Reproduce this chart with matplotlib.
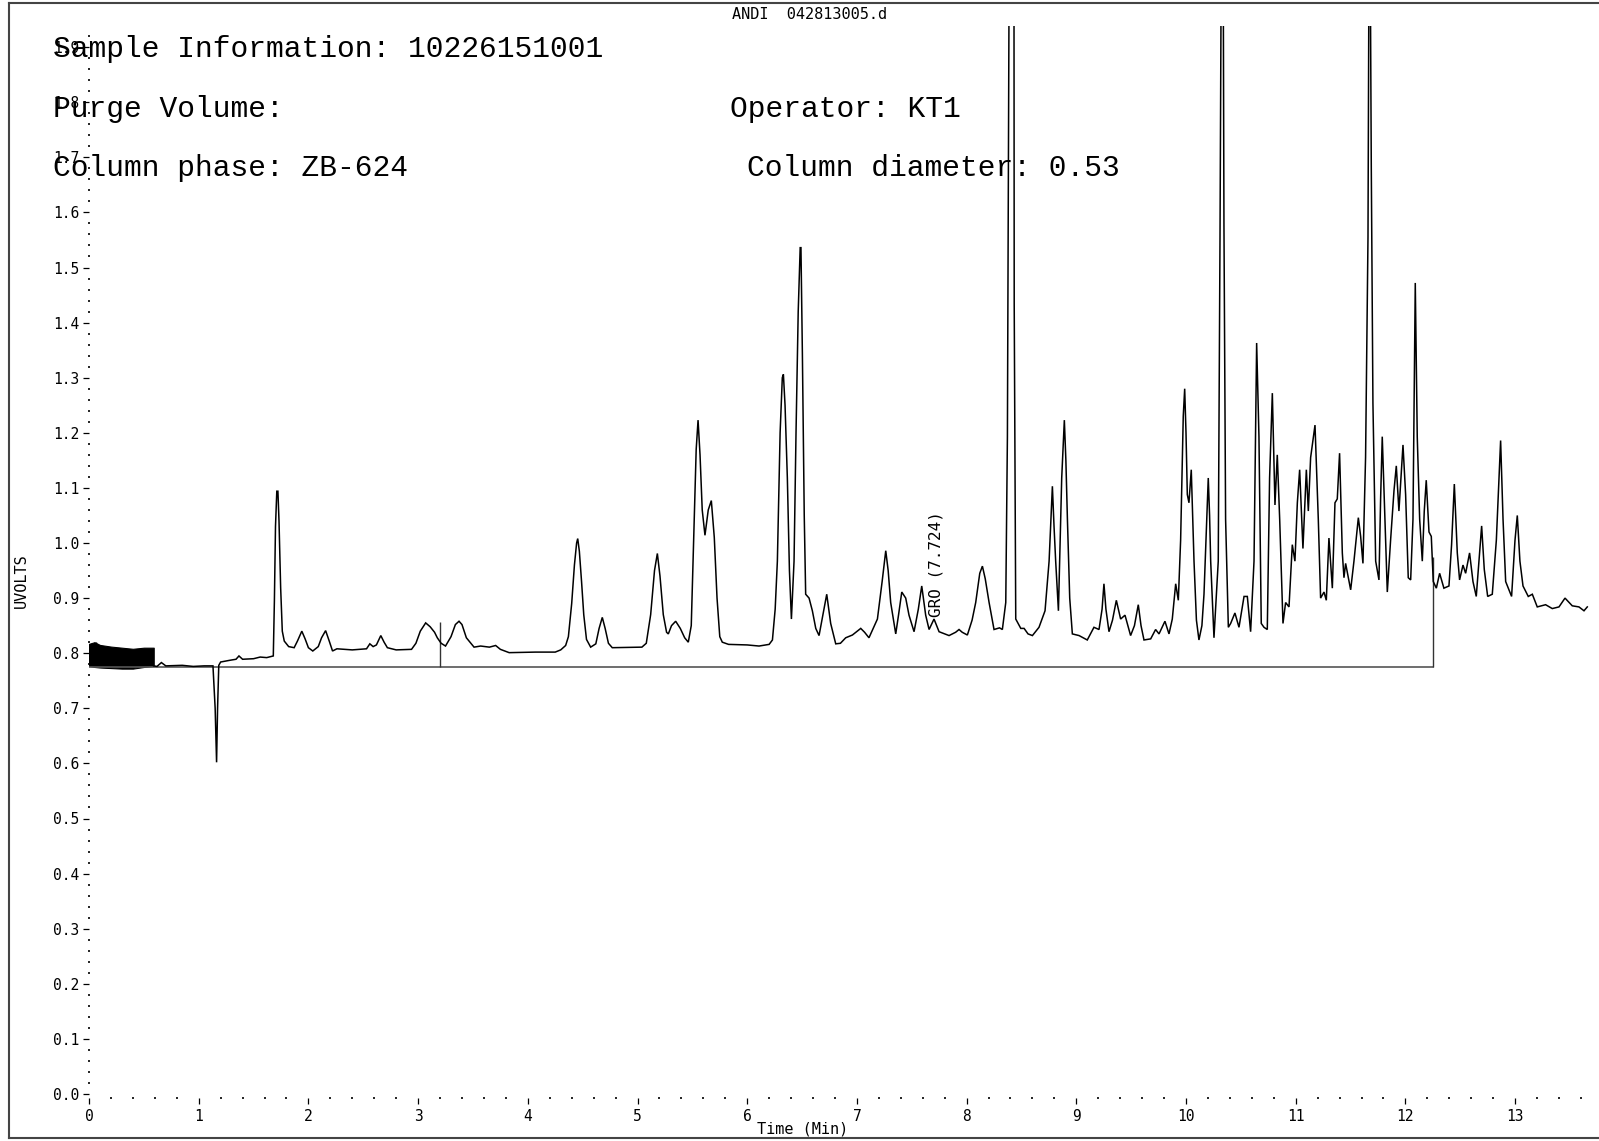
import matplotlib
matplotlib.use("Agg")
import matplotlib.pyplot as plt
from matplotlib.lines import Line2D
from matplotlib.ticker import MultipleLocator, FormatStrFormatter

# ---------------- data ----------------
time_min = [
    0.59, 0.62, 0.66, 0.70, 0.85, 0.95, 1.05, 1.13, 1.15, 1.163, 1.172, 1.183,
    1.20, 1.28, 1.34, 1.367, 1.40, 1.50, 1.56, 1.62, 1.68, 1.69, 1.70, 1.712,
    1.722, 1.732, 1.747, 1.762, 1.78, 1.82, 1.87, 1.90, 1.94, 1.97, 2.00, 2.04,
    2.09, 2.12, 2.157, 2.19, 2.22, 2.26, 2.40, 2.53, 2.56, 2.59, 2.62, 2.66,
    2.69, 2.72, 2.80, 2.94, 2.98, 3.02, 3.069, 3.11, 3.15, 3.175, 3.21, 3.25,
    3.30, 3.34, 3.373, 3.40, 3.44, 3.51, 3.57, 3.65, 3.707, 3.75, 3.83, 4.07,
    4.25, 4.30, 4.345, 4.37, 4.40, 4.425, 4.445, 4.455, 4.47, 4.49, 4.51, 4.535,
    4.573, 4.62, 4.65, 4.679, 4.705, 4.735, 4.77, 5.04, 5.08, 5.12, 5.155, 5.181,
    5.205, 5.235, 5.265, 5.281, 5.31, 5.348, 5.39, 5.43, 5.463, 5.49, 5.51, 5.535,
    5.552, 5.57, 5.59, 5.615, 5.645, 5.673, 5.70, 5.725, 5.75, 5.773, 5.83, 6.00,
    6.108, 6.20, 6.23, 6.255, 6.275, 6.30, 6.32, 6.33, 6.345, 6.366, 6.385, 6.403,
    6.427, 6.445, 6.465, 6.483, 6.49, 6.503, 6.52, 6.533, 6.564, 6.594, 6.625, 6.655,
    6.69, 6.725, 6.761, 6.807, 6.85, 6.898, 6.959, 7.035, 7.07, 7.11, 7.187, 7.23,
    7.263, 7.285, 7.308, 7.354, 7.38, 7.409, 7.445, 7.475, 7.521, 7.56, 7.591, 7.627,
    7.658, 7.703, 7.749, 7.84, 7.90, 7.931, 7.96, 8.007, 8.05, 8.083, 8.12, 8.144,
    8.17, 8.205, 8.25, 8.30, 8.326, 8.357, 8.372, 8.387, 8.41, 8.432, 8.434, 8.448,
    8.494, 8.524, 8.56, 8.60, 8.66, 8.715, 8.752, 8.782, 8.797, 8.812, 8.837, 8.867,
    8.891, 8.905, 8.919, 8.940, 8.964, 9.025, 9.10, 9.161, 9.207, 9.235, 9.252, 9.27,
    9.298, 9.33, 9.365, 9.404, 9.444, 9.495, 9.53, 9.565, 9.59, 9.617, 9.678, 9.723,
    9.754, 9.808, 9.845, 9.875, 9.906, 9.93, 9.951, 9.975, 9.988, 10.00, 10.012, 10.027,
    10.048, 10.073, 10.095, 10.118, 10.145, 10.164, 10.19, 10.203, 10.215, 10.225, 10.255, 10.294,
    10.31, 10.32, 10.33, 10.34, 10.346, 10.361, 10.386, 10.407, 10.446, 10.483, 10.529, 10.559,
    10.589, 10.62, 10.644, 10.665, 10.686, 10.711, 10.741, 10.762, 10.787, 10.811, 10.832, 10.854,
    10.884, 10.908, 10.939, 10.969, 10.993, 11.015, 11.036, 11.066, 11.097, 11.115, 11.136, 11.176,
    11.206, 11.227, 11.258, 11.279, 11.303, 11.334, 11.358, 11.379, 11.40, 11.425, 11.44, 11.455,
    11.501, 11.531, 11.571, 11.592, 11.613, 11.637, 11.659, 11.667, 11.674, 11.681, 11.689, 11.704,
    11.729, 11.759, 11.774, 11.789, 11.814, 11.835, 11.865, 11.896, 11.917, 11.941, 11.959, 11.978,
    12.002, 12.026, 12.048, 12.069, 12.09, 12.108, 12.13, 12.154, 12.172, 12.19, 12.215, 12.236,
    12.254, 12.282, 12.312, 12.351, 12.397, 12.421, 12.446, 12.473, 12.494, 12.525, 12.549, 12.585,
    12.616, 12.646, 12.67, 12.695, 12.719, 12.75, 12.792, 12.829, 12.868, 12.89, 12.914, 12.968,
    12.999, 13.02, 13.044, 13.072, 13.12, 13.157, 13.202, 13.278, 13.339, 13.40, 13.455, 13.521,
    13.582, 13.628, 13.658,
]
signal_uv = [
    0.777, 0.776, 0.783, 0.777, 0.778, 0.776, 0.777, 0.777, 0.70, 0.602, 0.70, 0.778,
    0.784, 0.787, 0.789, 0.795, 0.789, 0.790, 0.793, 0.792, 0.795, 0.895, 1.03, 1.094,
    1.094, 1.04, 0.919, 0.84, 0.822, 0.812, 0.810, 0.822, 0.840, 0.826, 0.810, 0.804,
    0.812, 0.828, 0.841, 0.822, 0.804, 0.808, 0.806, 0.808, 0.817, 0.812, 0.815, 0.832,
    0.820, 0.810, 0.806, 0.807, 0.818, 0.840, 0.855, 0.848, 0.838, 0.828, 0.818, 0.813,
    0.830, 0.852, 0.858, 0.852, 0.828, 0.811, 0.813, 0.811, 0.814, 0.807, 0.801, 0.802,
    0.802, 0.806, 0.814, 0.830, 0.890, 0.96, 1.000, 1.008, 0.985, 0.930, 0.870, 0.825,
    0.811, 0.817, 0.845, 0.865, 0.845, 0.818, 0.810, 0.811, 0.818, 0.870, 0.950, 0.981,
    0.940, 0.870, 0.838, 0.835, 0.850, 0.858, 0.845, 0.828, 0.820, 0.850, 0.990, 1.170,
    1.223, 1.160, 1.060, 1.014, 1.060, 1.077, 1.010, 0.900, 0.830, 0.820, 0.816, 0.815,
    0.813, 0.816, 0.824, 0.880, 0.967, 1.200, 1.300, 1.306, 1.250, 1.118, 0.950, 0.862,
    0.967, 1.200, 1.420, 1.536, 1.536, 1.344, 1.050, 0.907, 0.900, 0.877, 0.845, 0.832,
    0.870, 0.907, 0.854, 0.817, 0.818, 0.828, 0.833, 0.845, 0.838, 0.828, 0.862, 0.930,
    0.986, 0.950, 0.892, 0.835, 0.870, 0.911, 0.900, 0.869, 0.839, 0.880, 0.922, 0.869,
    0.843, 0.862, 0.839, 0.832, 0.838, 0.843, 0.838, 0.833, 0.860, 0.892, 0.945, 0.958,
    0.935, 0.892, 0.843, 0.846, 0.843, 0.892, 1.193, 2.0, 3.2, 2.0, 1.434, 0.862,
    0.845, 0.845, 0.835, 0.832, 0.847, 0.877, 0.967, 1.103, 1.03, 0.967, 0.877, 1.118,
    1.223, 1.15, 1.043, 0.900, 0.835, 0.832, 0.824, 0.847, 0.843, 0.880, 0.926, 0.880,
    0.839, 0.860, 0.896, 0.862, 0.869, 0.832, 0.850, 0.888, 0.850, 0.824, 0.826, 0.843,
    0.835, 0.858, 0.835, 0.862, 0.926, 0.896, 1.005, 1.230, 1.280, 1.200, 1.088, 1.073,
    1.133, 0.967, 0.860, 0.824, 0.850, 0.907, 1.050, 1.118, 1.050, 0.967, 0.828, 0.967,
    1.555, 2.0, 3.2, 2.0, 1.577, 1.043, 0.847, 0.854, 0.873, 0.847, 0.903, 0.903,
    0.839, 0.967, 1.363, 1.193, 0.854, 0.847, 0.843, 1.118, 1.272, 1.069, 1.160, 1.043,
    0.854, 0.892, 0.884, 0.997, 0.967, 1.073, 1.133, 0.990, 1.133, 1.058, 1.155, 1.214,
    1.043, 0.900, 0.911, 0.896, 1.009, 0.918, 1.073, 1.080, 1.163, 0.982, 0.937, 0.963,
    0.915, 0.967, 1.046, 1.012, 0.963, 1.156, 1.555, 2.0, 3.2, 2.0, 1.683, 1.254,
    0.967, 0.933, 1.080, 1.193, 1.043, 0.911, 1.005, 1.095, 1.140, 1.058, 1.118, 1.178,
    1.088, 0.937, 0.933, 1.043, 1.472, 1.193, 1.043, 0.967, 1.058, 1.114, 1.020, 1.012,
    0.930, 0.918, 0.945, 0.918, 0.922, 0.997, 1.107, 0.982, 0.933, 0.960, 0.945, 0.982,
    0.930, 0.903, 0.967, 1.031, 0.952, 0.903, 0.907, 1.005, 1.186, 1.043, 0.930, 0.903,
    1.005, 1.050, 0.967, 0.922, 0.903, 0.907, 0.884, 0.888, 0.881, 0.884, 0.900, 0.886,
    0.884, 0.877, 0.884,
]

# noisy start of the run (drawn as an envelope band)
noise_t = [0.00, 0.05, 0.10, 0.20, 0.30, 0.40, 0.50, 0.59]
noise_hi = [0.817, 0.820, 0.815, 0.812, 0.810, 0.808, 0.810, 0.810]
noise_lo = [0.777, 0.775, 0.774, 0.773, 0.772, 0.772, 0.775, 0.777]

# integration baseline and drop lines
baseline_t = [0.0, 12.25]
baseline_v = 0.775
drop_t = [3.196, 12.25]
drop_top = [0.856, 0.975]

# annotation
peak_label = "GRO (7.724)"
peak_label_t = 7.724
peak_label_v = 0.865

header_lines = [
    ("Sample Information: 10226151001", 53, 49),
    ("Purge Volume:", 53, 109),
    ("Column phase: ZB-624", 53, 168),
    ("Operator: KT1", 730, 109),
    ("Column diameter: 0.53", 747, 168),
]

# ---------------- figure ----------------
W, H = 1599, 1141
fig = plt.figure(figsize=(W / 100, H / 100), dpi=100)
fig.patch.set_facecolor("white")

SMALL = "DejaVu Sans Mono"

x0_px, px_per_min = 89.0, 109.7
y0_px, px_per_unit = 1094.0, 551.0
xmax = 13.7
axis_bottom_px = 1097.7
axis_top_px = 26.0
ymin = -(axis_bottom_px - y0_px) / px_per_unit
ymax = (y0_px - axis_top_px) / px_per_unit

ax = fig.add_axes([x0_px / W, (H - axis_bottom_px) / H,
                   xmax * px_per_min / W, (axis_bottom_px - axis_top_px) / H])
ax.set_xlim(0, xmax)
ax.set_ylim(ymin, ymax)
for s in ax.spines.values():
    s.set_visible(False)

ax.xaxis.set_minor_locator(MultipleLocator(0.2))
ax.yaxis.set_minor_locator(MultipleLocator(0.02))
ax.yaxis.set_major_formatter(FormatStrFormatter("%.1f"))
ax.set_xticks(range(0, 14))
ax.set_yticks([i / 10 for i in range(0, 20)])

ax.tick_params(axis="both", which="major", labelsize=10.5, color="black",
               width=0.9, length=4.0, direction="out", pad=3)
ax.tick_params(axis="x", which="major", pad=4)
ax.tick_params(axis="both", which="minor", length=1.2, width=1.2,
               direction="inout", color="black")
for lab in ax.get_xticklabels() + ax.get_yticklabels():
    lab.set_family(SMALL)

# noise band
ax.fill_between(noise_t, noise_lo, noise_hi, color="black", linewidth=0.8)
ax.vlines([0.0, 0.06], [0.776, 0.776], [0.817, 0.821], color="black", lw=1.0)

# baseline + drop lines
ax.plot(baseline_t, [baseline_v, baseline_v], color="#555555", lw=1.2)
ax.vlines(drop_t, baseline_v, drop_top, color="#333333", lw=1.0)

# chromatogram trace
ax.plot(time_min, signal_uv, color="black", lw=1.1, solid_joinstyle="miter")

ax.text(peak_label_t, peak_label_v, peak_label, rotation=90, ha="center",
        va="bottom", fontsize=11.5, family=SMALL)

# axis titles
fig.text(803 / W, 1 - 1129 / H, "Time (Min)", family=SMALL, fontsize=11,
         ha="center", va="center")
fig.text(21 / W, 1 - 581 / H, "UVOLTS", family=SMALL, fontsize=11,
         rotation=90, ha="center", va="center")

# header text
for txt, px, py in header_lines:
    fig.text(px / W, 1 - py / H, txt, family="Liberation Mono", fontsize=21.3,
             ha="left", va="center", color="black")

fig.text(810 / W, 1 - 14.5 / H, "ANDI  042813005.d", family=SMALL,
         fontsize=11, ha="center", va="center")

# outer frame
frame_kw = dict(color="#444444", lw=1.5, transform=fig.transFigure)
fig.add_artist(Line2D([9 / W, 1.01], [1 - 3 / H, 1 - 3 / H], **frame_kw))
fig.add_artist(Line2D([9 / W, 9 / W], [1 - 3 / H, 1 - 1138 / H], **frame_kw))
fig.add_artist(Line2D([9 / W, 1.01], [1 - 1138 / H, 1 - 1138 / H], **frame_kw))

fig.savefig("out.png", dpi=100)
